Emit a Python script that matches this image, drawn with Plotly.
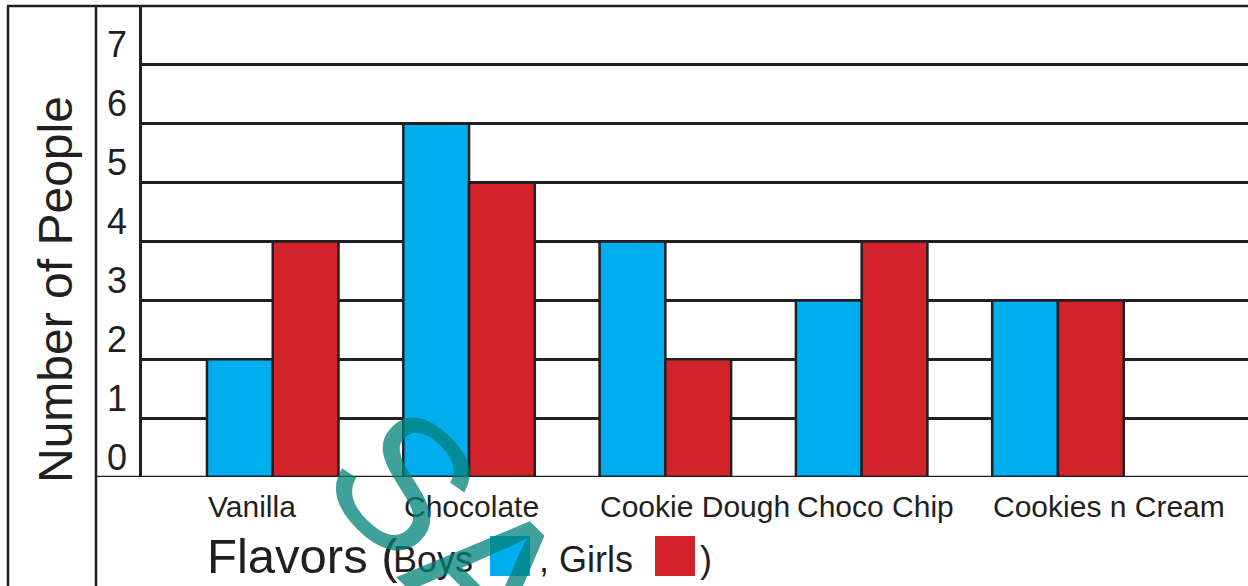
import plotly.graph_objects as go

# ---------------- data ----------------
flavors = ["Vanilla", "Chocolate", "Cookie Dough", "Choco Chip", "Cookies n Cream"]
boys = [2, 6, 4, 3, 3]
girls = [4, 5, 2, 4, 3]
y_tick_values = [0, 1, 2, 3, 4, 5, 6, 7]
grid_levels = [1, 2, 3, 4, 5, 6, 7, 8]

# ---------------- styles ----------------
BLUE = "#00aeef"
RED = "#d2232a"
INK = "#231f20"
TEAL = "rgba(0,128,120,0.75)"
FONT = "Liberation Sans, Arial, sans-serif"
LW = 2.5

W, H = 1248, 586
ML, MR, MT, MB = 142, 0, 6, 109
PW, PH = W - ML - MR, H - MT - MB


def px(xp):
    return (xp - ML) / PW


def py(yp):
    return (H - MB - yp) / PH


fig = go.Figure()
fig.add_trace(go.Bar(x=flavors, y=boys, name="Boys", marker=dict(color=BLUE, line=dict(color=INK, width=LW))))
fig.add_trace(go.Bar(x=flavors, y=girls, name="Girls", marker=dict(color=RED, line=dict(color=INK, width=LW))))

shapes = [
    # top frame line
    dict(type="line", xref="paper", yref="paper", x0=px(7), x1=1, y0=1, y1=1, line=dict(color=INK, width=LW)),
    # left frame verticals
    dict(type="line", xref="paper", yref="paper", x0=px(8), x1=px(8), y0=1, y1=py(600), line=dict(color=INK, width=LW)),
    dict(type="line", xref="paper", yref="paper", x0=px(96), x1=px(96), y0=1, y1=py(600), line=dict(color=INK, width=LW)),
    # x axis baseline
    dict(type="line", xref="paper", yref="y", x0=px(96), x1=1, y0=0, y1=0, line=dict(color=INK, width=LW)),
    # legend swatches in the title
    dict(type="rect", xref="paper", yref="paper", x0=px(490), x1=px(530), y0=py(536), y1=py(576),
         fillcolor=BLUE, line=dict(width=0)),
    dict(type="rect", xref="paper", yref="paper", x0=px(655), x1=px(695), y0=py(536), y1=py(576),
         fillcolor=RED, line=dict(width=0)),
]

annotations = []
for f in flavors:
    annotations.append(dict(x=f, y=0, xref="x", yref="y", text=f, showarrow=False,
                            xanchor="left", yanchor="middle", xshift=-65, yshift=-29,
                            font=dict(family=FONT, size=30, color=INK), borderpad=0, borderwidth=0))

annotations += [
    dict(x=px(55.5), y=py(289.5), xref="paper", yref="paper", text="Number of People", textangle=-90,
         showarrow=False, xanchor="center", yanchor="middle",
         font=dict(family=FONT, size=48, color=INK), borderpad=0, borderwidth=0),
    dict(x=px(207), y=py(556.4), xref="paper", yref="paper", text="Flavors (", showarrow=False,
         xanchor="left", yanchor="middle", font=dict(family=FONT, size=49, color=INK), borderpad=0, borderwidth=0),
    dict(x=px(393), y=py(559.9), xref="paper", yref="paper", text="Boys", showarrow=False,
         xanchor="left", yanchor="middle", font=dict(family=FONT, size=36, color=INK), borderpad=0, borderwidth=0),
    dict(x=px(539), y=py(559.9), xref="paper", yref="paper", text=", Girls", showarrow=False,
         xanchor="left", yanchor="middle", font=dict(family=FONT, size=36, color=INK), borderpad=0, borderwidth=0),
    dict(x=px(699.5), y=py(559.9), xref="paper", yref="paper", text=")", showarrow=False,
         xanchor="left", yanchor="middle", font=dict(family=FONT, size=36, color=INK), borderpad=0, borderwidth=0),
]

# watermark letters (rotated, semi-transparent)
for ch, cx, cy, size in [("S", 403, 482, 185), ("A", 490, 575, 195), ("M", 598, 683, 195)]:
    annotations.append(dict(x=px(cx), y=py(cy), xref="paper", yref="paper", text=ch, textangle=45,
                            showarrow=False, xanchor="center", yanchor="middle",
                            font=dict(family=FONT, size=size, color=TEAL), borderpad=0, borderwidth=0))

fig.update_layout(
    width=W, height=H,
    margin=dict(l=ML, r=MR, t=MT, b=MB, pad=0),
    paper_bgcolor="white", plot_bgcolor="white",
    barmode="group", bargap=0.33, bargroupgap=0,
    showlegend=False,
    shapes=shapes, annotations=annotations,
    font=dict(family=FONT, color=INK),
    xaxis=dict(range=[-0.666, 4.968], showticklabels=False, showgrid=False, zeroline=False,
               showline=False, ticks=""),
    yaxis=dict(range=[0, 8], tickmode="array",
               tickvals=[v + 0.34 for v in y_tick_values], ticktext=[str(v) for v in y_tick_values],
               tickfont=dict(family=FONT, size=36, color=INK), ticks="", ticklabelstandoff=5,
               showgrid=False, zeroline=False, showline=True, linecolor=INK, linewidth=LW,
               minor=dict(tickmode="array", tickvals=grid_levels, showgrid=True,
                          gridcolor=INK, gridwidth=LW, ticks="")),
)

fig.write_html("out.html")
